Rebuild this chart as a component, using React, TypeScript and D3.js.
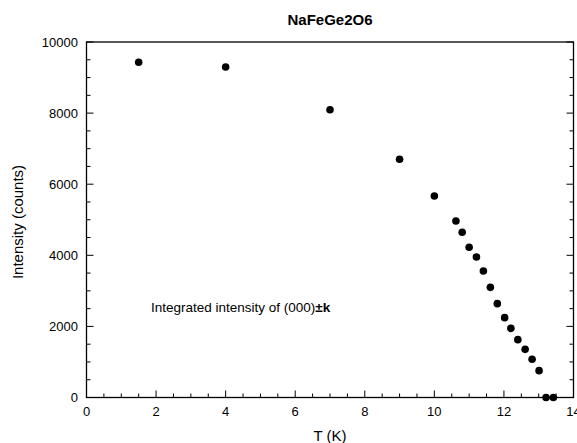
import React from "react";
import * as d3 from "d3";

const temps = [1.5, 4, 7, 9, 10, 10.62, 10.8, 11.0, 11.21, 11.41, 11.61, 11.81, 12.02, 12.2, 12.4, 12.61, 12.81, 13.01, 13.21, 13.42];
const intensities = [9430, 9297, 8096, 6700, 5668, 4965, 4647, 4225, 3952, 3558, 3099, 2640, 2246, 1945, 1627, 1355, 1074, 755, 0, 0];
const xTicks = [0, 2, 4, 6, 8, 10, 12, 14];
const yTicks = [0, 2000, 4000, 6000, 8000, 10000];

const W = 577, H = 443;
const M = { left: 86.5, right: 573.5, top: 42, bottom: 397.5 };
const FONT = "'Liberation Sans', Arial, Helvetica, sans-serif";

export default function App() {
  const x = d3.scaleLinear().domain([0, 14]).range([M.left, M.right]);
  const y = d3.scaleLinear().domain([0, 10000]).range([M.bottom, M.top]);
  const xMinor = d3.range(0, 14.001, 0.5).filter((v) => v % 2 !== 0);
  const yMinor = d3.range(0, 10001, 500).filter((v) => v % 2000 !== 0);

  return (
    <svg width={W} height={H} style={{ position: "absolute", left: 0, top: 0, background: "#fff" }} fontFamily={FONT}>
      <rect x={0} y={0} width={W} height={H} fill="#fff" />
      <text x={(M.left + M.right) / 2} y={25} textAnchor="middle" fontSize={15} fontWeight="bold">NaFeGe2O6</text>
      <rect x={M.left} y={M.top} width={M.right - M.left} height={M.bottom - M.top} fill="none" stroke="#000" strokeWidth={1.3} />
      {xTicks.map((t) => (
        <g key={"xt" + t}>
          <line x1={x(t)} x2={x(t)} y1={M.bottom} y2={M.bottom - 7} stroke="#000" strokeWidth={1} />
          <text x={x(t)} y={416} textAnchor="middle" fontSize={13}>{t}</text>
        </g>
      ))}
      {xMinor.map((t) => (
        <line key={"xm" + t} x1={x(t)} x2={x(t)} y1={M.bottom} y2={M.bottom - 4} stroke="#000" strokeWidth={1} />
      ))}
      {yTicks.map((t) => (
        <g key={"yt" + t}>
          <line x1={M.left} x2={M.left + 7} y1={y(t)} y2={y(t)} stroke="#000" strokeWidth={1} />
          <line x1={M.right} x2={M.right - 7} y1={y(t)} y2={y(t)} stroke="#000" strokeWidth={1} />
          <text x={78} y={y(t) + 4.5} textAnchor="end" fontSize={13}>{t}</text>
        </g>
      ))}
      {yMinor.map((t) => (
        <g key={"ym" + t}>
          <line x1={M.left} x2={M.left + 4} y1={y(t)} y2={y(t)} stroke="#000" strokeWidth={1} />
          <line x1={M.right} x2={M.right - 4} y1={y(t)} y2={y(t)} stroke="#000" strokeWidth={1} />
        </g>
      ))}
      <text x={(M.left + M.right) / 2} y={441} textAnchor="middle" fontSize={15}>T (K)</text>
      <text transform={`translate(23, ${222}) rotate(-90)`} textAnchor="middle" fontSize={15}>Intensity (counts)</text>
      <text x={151} y={312} fontSize={13.5}>
        Integrated intensity of (000)<tspan fontWeight="bold">±k</tspan>
      </text>
      {temps.map((t, i) => (
        <circle key={"p" + i} cx={x(t)} cy={y(intensities[i])} r={3.8} fill="#000" />
      ))}
    </svg>
  );
}
